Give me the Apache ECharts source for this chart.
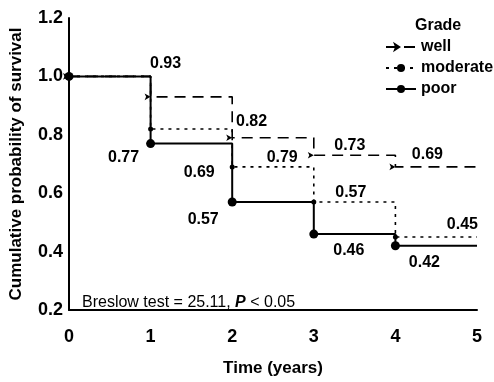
<!DOCTYPE html>
<html>
<head>
<meta charset="utf-8">
<script src="https://cdn.jsdelivr.net/npm/echarts@6/dist/echarts.min.js"></script>
<style>
  html, body { margin: 0; padding: 0; background: #fff; }
  #main { width: 494px; height: 382px; }
</style>
</head>
<body>
<div id="main"></div>
<script>
// data
var years = [0, 1, 2, 3, 4, 5];
var well = [1.0, 0.93, 0.79, 0.73, 0.69, 0.69];
var moderate = [1.0, 0.82, 0.69, 0.57, 0.45, 0.45];
var poor = [1.0, 0.77, 0.57, 0.46, 0.42, 0.42];
var yTicks = [0.2, 0.4, 0.6, 0.8, 1.0, 1.2];

// where each value label sits relative to its point (px)
var wellOff = [null, [18, -33], [53, 20], [39, -10], [35, -12], null];
var modOff = [null, [101, -7], [-33, 6], [37, -9], [67, -12], null];
var poorOff = [null, [-27, 14], [-29, 18], [35, 17], [29, 17], null];

var font = 'Liberation Sans, Arial, sans-serif';

function build(vals, offs) {
  return years.map(function (x, i) {
    var item = { value: [x, vals[i]] };
    if (offs[i]) {
      item.label = { show: true, offset: offs[i] };
    }
    if (i === years.length - 1) item.symbol = 'none';
    return item;
  });
}

var lblStyle = {
  show: false,
  position: 'inside',
  color: '#000',
  fontFamily: font,
  fontSize: 16,
  fontWeight: 'bold',
  formatter: function (p) { return p.value[1].toFixed(2); }
};

var myChart = echarts.init(document.getElementById('main'));
var option = {
  animation: false,
  backgroundColor: '#fff',
  grid: { left: 68, right: 17, top: 18, bottom: 71 },
  legend: {
    orient: 'vertical',
    left: 380,
    top: 34,
    itemWidth: 30,
    itemHeight: 10,
    itemGap: 5,
    textStyle: { color: '#000', fontFamily: font, fontSize: 16, fontWeight: 'bold' },
    data: ['well', 'moderate', 'poor']
  },
  graphic: [
    {
      type: 'text', left: 415, top: 18,
      style: { text: 'Grade', fill: '#000', font: 'bold 16px ' + font }
    },
    {
      type: 'text', left: 82, top: 295,
      style: {
        text: '{a|Breslow test = 25.11, }{b|P}{a| < 0.05}',
        rich: {
          a: { fill: '#000', fontFamily: font, fontSize: 16 },
          b: { fill: '#000', fontFamily: font, fontSize: 16, fontStyle: 'italic', fontWeight: 'bold' }
        }
      }
    }
  ],
  xAxis: {
    type: 'value',
    min: 0, max: 5, interval: 1,
    name: 'Time (years)',
    nameLocation: 'middle',
    nameGap: 50,
    nameTextStyle: { color: '#000', fontFamily: font, fontSize: 17, fontWeight: 'bold' },
    axisLine: { lineStyle: { color: '#000', width: 2 } },
    axisTick: { show: false },
    splitLine: { show: false },
    axisLabel: { color: '#000', fontFamily: font, fontSize: 18, fontWeight: 'bold', margin: 18 }
  },
  yAxis: {
    type: 'value',
    min: 0.2, max: 1.2, interval: 0.2,
    name: 'Cumulative probability of survival',
    nameLocation: 'middle',
    nameGap: 44,
    nameTextStyle: { color: '#000', fontFamily: font, fontSize: 17, fontWeight: 'bold' },
    axisLine: { show: true, lineStyle: { color: '#000', width: 2 } },
    axisTick: { show: false },
    splitLine: { show: false },
    axisLabel: {
      color: '#000', fontFamily: font, fontSize: 18, fontWeight: 'bold', margin: 6,
      formatter: function (v) { return yTicks.indexOf(Math.round(v * 10) / 10) >= 0 ? v.toFixed(1) : ''; }
    }
  },
  series: [
    {
      name: 'well', type: 'line', step: 'end',
      symbol: 'arrow', symbolSize: [5, 6], symbolRotate: -90,
      lineStyle: { color: '#000', width: 1.6, type: [11, 7] },
      itemStyle: { color: '#000' },
      label: lblStyle,
      emphasis: { disabled: true },
      data: build(well, wellOff)
    },
    {
      name: 'moderate', type: 'line', step: 'end',
      symbol: 'circle', symbolSize: 5,
      lineStyle: { color: '#000', width: 1.6, type: [3, 5] },
      itemStyle: { color: '#000' },
      label: lblStyle,
      emphasis: { disabled: true },
      data: build(moderate, modOff)
    },
    {
      name: 'poor', type: 'line', step: 'end',
      symbol: 'circle', symbolSize: 9,
      lineStyle: { color: '#000', width: 2 },
      itemStyle: { color: '#000' },
      label: lblStyle,
      emphasis: { disabled: true },
      data: build(poor, poorOff)
    }
  ]
};
myChart.setOption(option);
</script>
</body>
</html>
